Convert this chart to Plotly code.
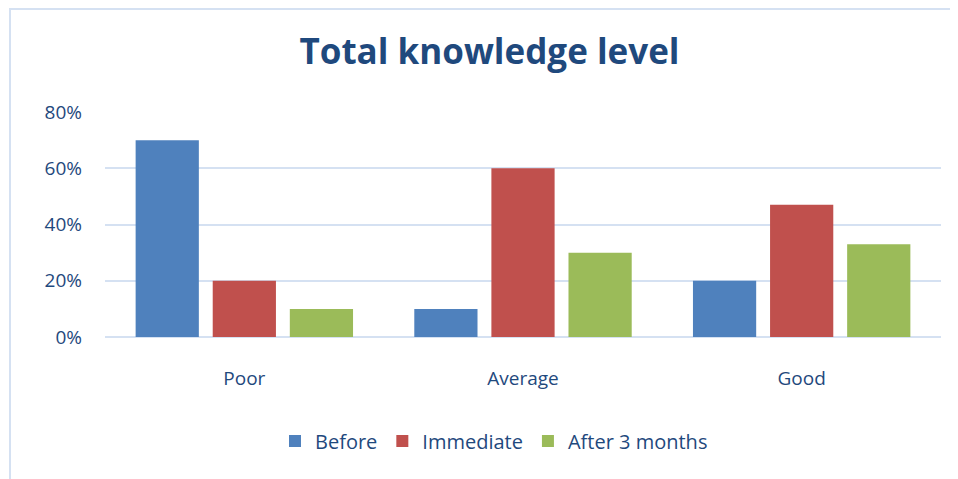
import plotly.graph_objects as go

categories = ["Poor", "Average", "Good"]
before = [0.70, 0.10, 0.20]
immediate = [0.20, 0.60, 0.47]
after_3_months = [0.10, 0.30, 0.33]
series_names = ["Before", "Immediate", "After 3 months"]
y_ticks = [0, 0.2, 0.4, 0.6, 0.8]
y_tick_labels = ["0%", "20%", "40%", "60%", "80%"]

colors = ["#4F81BD", "#C0504D", "#9BBB59"]
text_color = "#1F497D"
grid_color = "#D5E1F2"
font_family = "Open Sans"

fig = go.Figure()
for name, vals, col in zip(series_names, [before, immediate, after_3_months], colors):
    fig.add_trace(go.Bar(x=categories, y=vals, name=name, marker=dict(color=col, line=dict(width=0))))

OFF = 8  # page offset of the figure in the browser window
W, H = 958, 479
L, R, T, B = 105 - OFF, 17 + OFF, 112 - OFF, 142 + OFF
pw, ph = W - L - R, H - T - B

def px_to_paper_x(px):
    return (px - OFF - L) / pw

def px_to_paper_y(py):
    return (T + ph - (py - OFF)) / ph

fig.update_layout(
    width=W, height=H,
    margin=dict(l=L, r=R, t=T, b=B, pad=0),
    paper_bgcolor="white", plot_bgcolor="white",
    barmode="group", bargap=0.17, bargroupgap=0.18,
    font=dict(family=font_family, color=text_color, size=19),
    title=dict(text="<b>Total knowledge level</b>", xref="container",
               x=(489.5 - OFF) / W, xanchor="center",
               y=1 - (52 - OFF) / H, yanchor="middle",
               font=dict(size=35, color=text_color, family=font_family)),
    showlegend=True,
    legend=dict(orientation="h", x=px_to_paper_x(494), xanchor="center",
                y=px_to_paper_y(441), yanchor="middle",
                font=dict(size=20, color=text_color), traceorder="normal",
                itemwidth=30, tracegroupgap=0),
    xaxis=dict(showgrid=False, showline=False, ticks="", ticklabelstandoff=28,
               tickfont=dict(size=19, color=text_color)),
    yaxis=dict(range=[0, 0.8], tickvals=y_ticks, ticktext=y_tick_labels,
               showgrid=True, gridcolor=grid_color, gridwidth=1.5,
               zeroline=True, zerolinecolor=grid_color, zerolinewidth=1.5,
               showline=False, ticks="", ticklabelstandoff=22,
               tickfont=dict(size=19, color=text_color)),
    shapes=[dict(type="rect", xref="paper", yref="paper",
                 x0=px_to_paper_x(10), x1=px_to_paper_x(W + 20),
                 y0=px_to_paper_y(H + 20), y1=px_to_paper_y(9),
                 line=dict(color=grid_color, width=2), fillcolor="rgba(0,0,0,0)", layer="below")],
)

fig.write_html("out.html")
